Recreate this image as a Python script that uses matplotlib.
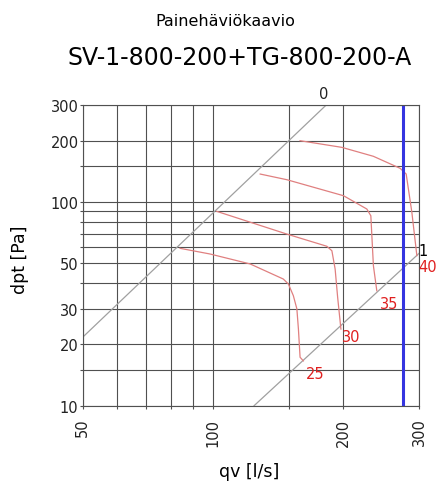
import matplotlib
matplotlib.use("Agg")
import matplotlib.pyplot as plt

# grid / tick values
x_grid = [50, 60, 70, 80, 90, 100, 150, 200, 300]
x_labels = ["50", "", "", "", "", "100", "", "200", "300"]
y_grid = [10, 15, 20, 30, 40, 50, 60, 70, 80, 90, 100, 150, 200, 300]
y_labels = ["10", "", "20", "30", "", "50", "", "", "", "", "100", "", "200", "300"]

# system curves (damper position 0 and 1)
sys0_q = [50, 183]
sys0_dp = [21.7, 300]
sys1_q = [124.6, 300]
sys1_dp = [10, 56]

# fan curves
c25_q = [84.0, 98.6, 122.0, 145.6, 149.6, 153.6, 156.5, 157.8, 159.2, 162.0]
c25_dp = [59.3, 55.6, 49.7, 41.9, 39.6, 34.7, 29.9, 23.8, 17.3, 16.6]
c30_q = [102.1, 148.3, 183.6, 188.6, 191.9, 194.5, 197.9]
c30_dp = [90.1, 69.7, 60.7, 57.7, 46.9, 34.0, 23.8]
c35_q = [128.7, 148.3, 200.7, 227.2, 232.1, 235.3, 239.6]
c35_dp = [137.4, 128.9, 107.5, 92.5, 85.7, 48.7, 36.7]
c40_q = [159.2, 198.9, 235.3, 271.3, 280.2, 288.8, 296.6]
c40_dp = [200.3, 185.8, 167.9, 146.6, 137.4, 89.1, 54.6]
curve_names = ["25", "30", "35", "40"]

# operating flow
q_op = 276

grid_col = "#505050"
red_line = "#e08080"
red_text = "#e02020"

fig = plt.figure(figsize=(4.37, 4.85), dpi=100)
ax = fig.add_axes([82.7 / 437, 1 - 406.7 / 485, (419 - 82.7) / 437, (406.7 - 106) / 485])
ax.set_xscale("log")
ax.set_yscale("log")
ax.set_xlim(50, 300)
ax.set_ylim(10, 300)

ax.set_xticks(x_grid)
ax.set_xticklabels(x_labels, rotation=90, va="top", ha="center")
ax.set_yticks(y_grid)
ax.set_yticklabels(y_labels)
ax.minorticks_off()
ax.tick_params(axis="both", colors=grid_col, labelcolor="#222222", labelsize=10.5, width=0.8)
ax.tick_params(axis="y", length=2, pad=1)
ax.tick_params(axis="x", length=2.5, pad=6)
ax.grid(True, color=grid_col, linewidth=0.8)
for s in ax.spines.values():
    s.set_color(grid_col)
    s.set_linewidth(0.8)

ax.plot(sys0_q, sys0_dp, color="#a0a0a0", lw=0.9)
ax.plot(sys1_q, sys1_dp, color="#a0a0a0", lw=0.9)
ax.annotate("0", (sys0_q[-1], sys0_dp[-1]), xytext=(-2, 3), textcoords="offset points",
            ha="center", va="bottom", fontsize=10.5, color="#222222", annotation_clip=False)
ax.annotate("1", (sys1_q[-1], sys1_dp[-1]), xytext=(3, 2), textcoords="offset points",
            ha="center", va="center", fontsize=10.5, color="#000000", annotation_clip=False)

curves = [(c25_q, c25_dp), (c30_q, c30_dp), (c35_q, c35_dp), (c40_q, c40_dp)]
offsets = [(1.5, -3.5), (0.7, 0), (2, -3.5), (1.2, -2.5)]
for (q, dp), name, off in zip(curves, curve_names, offsets):
    ax.plot(q, dp, color=red_line, lw=0.9)
    ax.annotate(name, (q[-1], dp[-1]), xytext=off, textcoords="offset points",
                ha="left", va="top", fontsize=10.5, color=red_text, annotation_clip=False)

ax.axvline(q_op, color="#3535e0", lw=2.2)

fig.text(225 / 437, 1 - 21 / 485, "Painehäviökaavio", ha="center", va="center", fontsize=11.5)
fig.text(240 / 437, 1 - 58 / 485, "SV-1-800-200+TG-800-200-A", ha="center", va="center", fontsize=17)
fig.text(249 / 437, 1 - 472 / 485, "qv [l/s]", ha="center", va="center", fontsize=12.5)
fig.text(20 / 437, 1 - 260 / 485, "dpt [Pa]", ha="center", va="center", fontsize=12.5, rotation=90)

fig.savefig("out.png", dpi=100)
